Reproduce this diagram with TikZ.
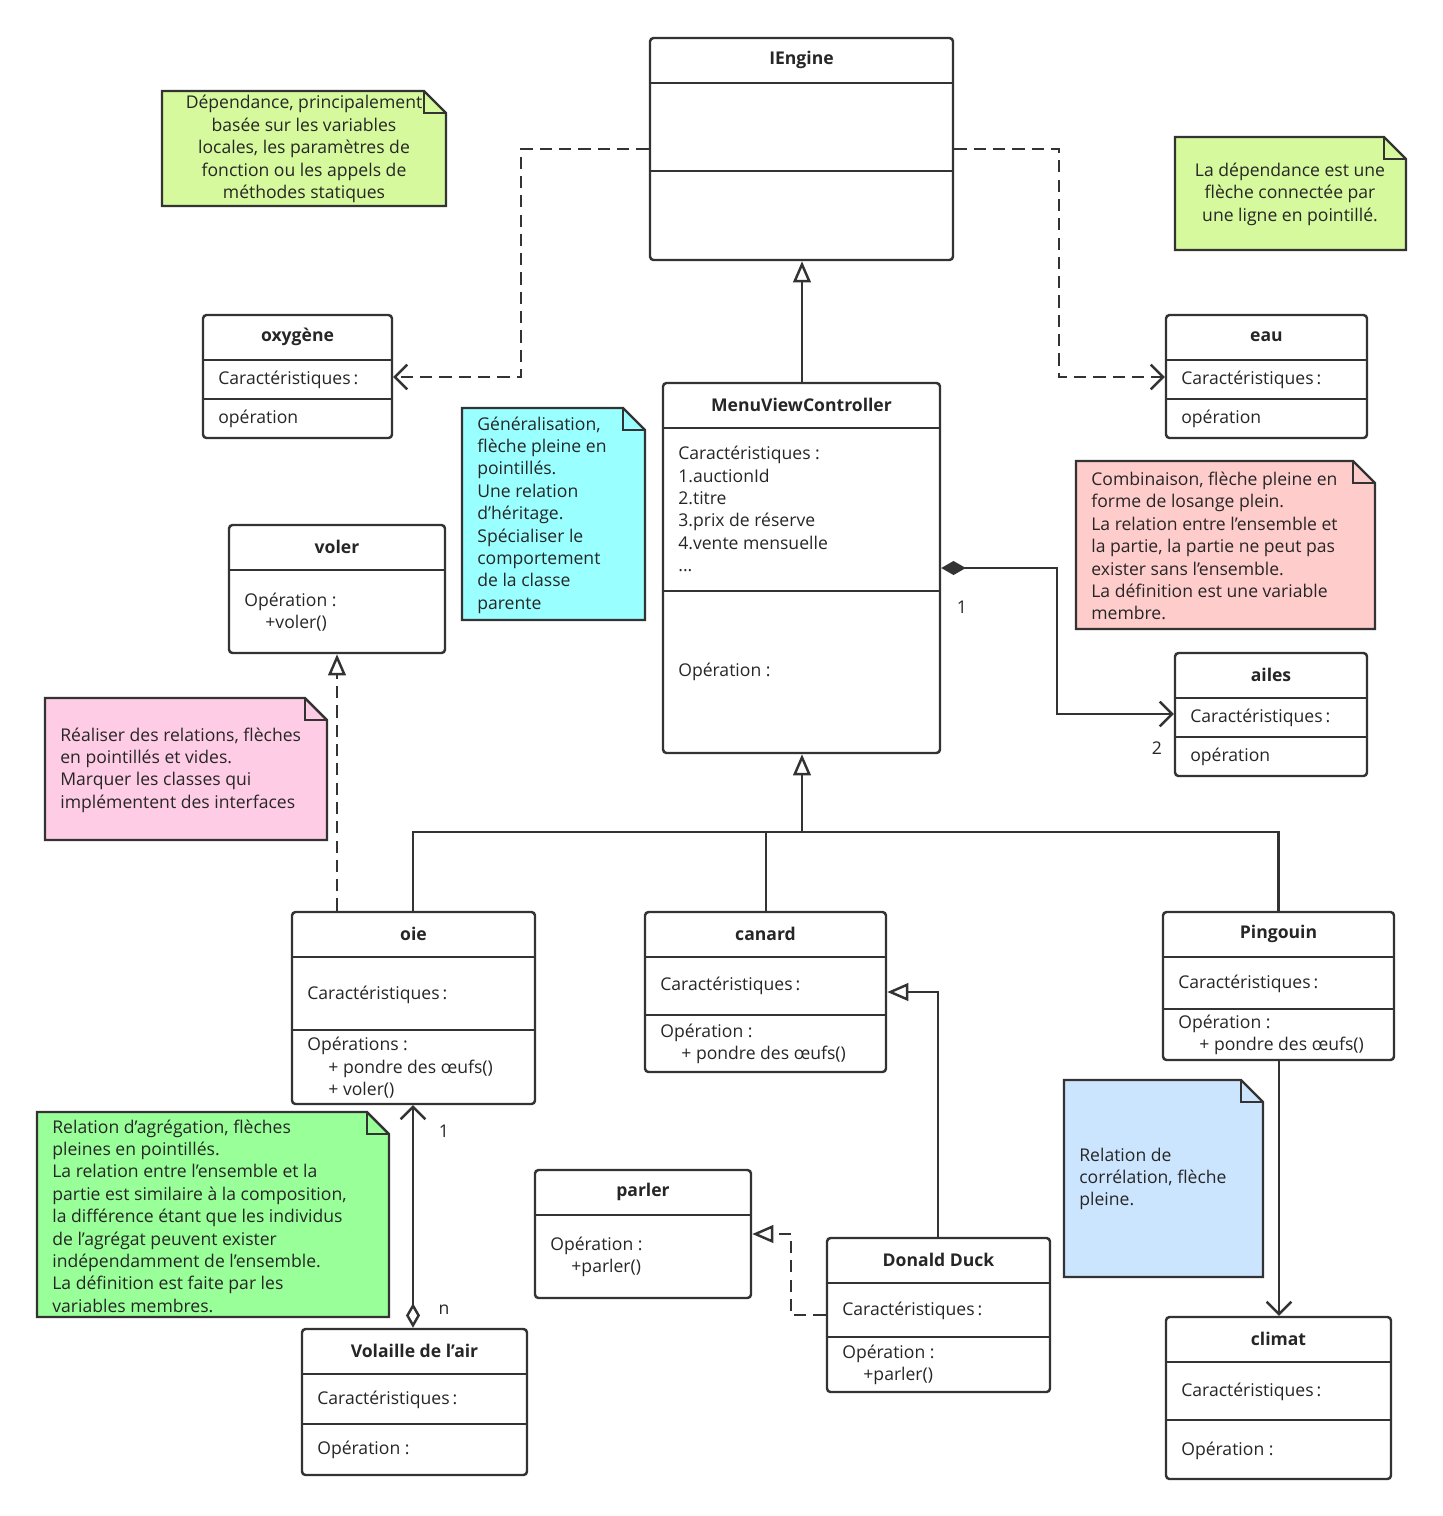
\documentclass[tikz,border=0pt]{standalone}
\usepackage{fontspec}
\setmainfont{Open Sans}
\usepackage{tikz}
\usetikzlibrary{positioning,arrows.meta,fit,calc}

\definecolor{ln}{HTML}{333333}
\definecolor{lime}{HTML}{D5F99C}
\definecolor{aqua}{HTML}{99FFFF}
\definecolor{rose}{HTML}{FFCCCC}
\definecolor{pinkn}{HTML}{FFCCE6}
\definecolor{mint}{HTML}{99FF99}
\definecolor{sky}{HTML}{CCE5FF}

\tikzset{
  cls/.style={draw=ln, line width=1.4pt, rounded corners=2pt, inner sep=0pt, fill=white},
  sep/.style={draw=ln, line width=1.4pt},
  ttl/.style={font=\bfseries, inner sep=0pt},
  txt/.style={anchor=west, inner sep=0pt, align=left},
  link/.style={draw=ln, line width=1.4pt},
  dep/.style={link, dashed, dash pattern=on 7pt off 4pt},
  gen/.style={-{Triangle[open,fill=white,length=12pt,width=10pt]}},
  barb/.style={-{Straight Barb[length=7pt,width=14pt]}},
}

% class box: name, x1, y1, x2, y2, title
\newcommand\classbox[6]{%
  \node[cls, fit={(#2,#3) (#4,#5)}] (#1) {};
  \node[ttl] (#1-t) at ($(#1.north)+(0,23)$) {#6};}
% separator of a class box at height y
\newcommand\classsep[2]{%
  \draw[sep] (#1.west |- 0,#2) -- (#1.east |- 0,#2);}
% note: name, x1, y1, x2, y2, colour
\newcommand\notebox[6]{%
  \draw[link, fill=#6] (#2,#3) -- ($(#4,#3)+(-22,0)$) -- ($(#4,#3)+(0,22)$) -- (#4,#5) -- (#2,#5) -- cycle;
  \draw[link] ($(#4,#3)+(-22,0)$) -- ($(#4,#3)+(-22,22)$) -- ($(#4,#3)+(0,22)$);
  \coordinate (#1) at ($(#2,#3)!0.5!(#4,#5)$);}

\begin{document}
\begin{tikzpicture}[x=0.02cm, y=-0.02cm, font=\fontsize{10}{12.75}\selectfont, text=black!85]
\useasboundingbox[fill=white] (0,0) rectangle (1443,1516);

% notes
\notebox{n1}{162}{91}{446}{206}{lime}
\node[align=center, inner sep=0pt] (n1-t) at (304,149) {Dépendance, principalement\\basée sur les variables\\locales, les paramètres de\\fonction ou les appels de\\méthodes statiques};
\notebox{n2}{1175}{137}{1406}{250}{lime}
\node[align=center, inner sep=0pt] (n2-t) at (1290,194) {La dépendance est une\\flèche connectée par\\une ligne en pointillé.};
\notebox{n3}{462}{408}{645}{620}{aqua}
\node[txt] (n3-t) at (477,515) {Généralisation,\\flèche pleine en\\pointillés.\\Une relation\\d'héritage.\\Spécialiser le\\comportement\\de la classe\\parente};
\notebox{n4}{1076}{461}{1375}{629}{rose}
\node[txt] (n4-t) at (1091,546) {Combinaison, flèche pleine en\\forme de losange plein.\\La relation entre l'ensemble et\\la partie, la partie ne peut pas\\exister sans l'ensemble.\\La définition est une variable\\membre.};
\notebox{n5}{45}{698}{327}{840}{pinkn}
\node[txt] (n5-t) at (60,770) {Réaliser des relations, flèches\\en pointillés et vides.\\Marquer les classes qui\\implémentent des interfaces};
\notebox{n6}{37}{1112}{389}{1317}{mint}
\node[txt] (n6-t) at (52,1216) {Relation d'agrégation, flèches\\pleines en pointillés.\\La relation entre l'ensemble et la\\partie est similaire à la composition,\\la différence étant que les individus\\de l'agrégat peuvent exister\\indépendamment de l'ensemble.\\La définition est faite par les\\variables membres.};
\notebox{n7}{1064}{1080}{1263}{1277}{sky}
\node[txt] (n7-t) at (1079,1179) {Relation de\\corrélation, flèche\\pleine.};

% classes
\classbox{engine}{650}{38}{953}{260}{IEngine}
\classsep{engine}{83} \classsep{engine}{171}

\classbox{oxy}{203}{315}{392}{438}{oxygène}
\classsep{oxy}{360} \classsep{oxy}{399}
\node[txt] (oxy-a) at (218,380) {Caractéristiques\,:};
\node[txt] (oxy-o) at (218,419) {opération};

\classbox{eau}{1166}{315}{1367}{438}{eau}
\classsep{eau}{360} \classsep{eau}{399}
\node[txt] (eau-a) at (1181,380) {Caractéristiques\,:};
\node[txt] (eau-o) at (1181,419) {opération};

\classbox{mvc}{663}{383}{940}{753}{MenuViewController}
\classsep{mvc}{428} \classsep{mvc}{591}
\node[txt] (mvc-a) at (678,509) {Caractéristiques :\\1.auctionId\\2.titre\\3.prix de réserve\\4.vente mensuelle\\...};
\node[txt] (mvc-o) at (678,672) {Opération :};

\classbox{voler}{229}{525}{445}{653}{voler}
\classsep{voler}{570}
\node[txt] (voler-o) at (244,612) {Opération :\\\hspace*{1.2em}+voler()};

\classbox{ailes}{1175}{653}{1367}{776}{ailes}
\classsep{ailes}{698} \classsep{ailes}{737}
\node[txt] (ailes-a) at (1190,718) {Caractéristiques\,:};
\node[txt] (ailes-o) at (1190,757) {opération};

\classbox{oie}{292}{912}{535}{1104}{oie}
\classsep{oie}{957} \classsep{oie}{1030}
\node[txt] (oie-a) at (307,995) {Caractéristiques\,:};
\node[txt] (oie-o) at (307,1068) {Opérations :\\\hspace*{1.2em}+ pondre des œufs()\\\hspace*{1.2em}+ voler()};

\classbox{canard}{645}{912}{886}{1072}{canard}
\classsep{canard}{957} \classsep{canard}{1015}
\node[txt] (canard-a) at (660,986) {Caractéristiques\,:};
\node[txt] (canard-o) at (660,1044) {Opération :\\\hspace*{1.2em}+ pondre des œufs()};

\classbox{ping}{1163}{912}{1394}{1060}{Pingouin}
\classsep{ping}{957} \classsep{ping}{1009}
\node[txt] (ping-a) at (1178,984) {Caractéristiques\,:};
\node[txt] (ping-o) at (1178,1035) {Opération :\\\hspace*{1.2em}+ pondre des œufs()};

\classbox{parler}{535}{1170}{751}{1298}{parler}
\classsep{parler}{1215}
\node[txt] (parler-o) at (550,1257) {Opération :\\\hspace*{1.2em}+parler()};

\classbox{donald}{827}{1238}{1050}{1392}{Donald Duck}
\classsep{donald}{1283} \classsep{donald}{1337}
\node[txt] (donald-a) at (842,1311) {Caractéristiques\,:};
\node[txt] (donald-o) at (842,1365) {Opération :\\\hspace*{1.2em}+parler()};

\classbox{volaille}{302}{1329}{527}{1475}{Volaille de l'air}
\classsep{volaille}{1374} \classsep{volaille}{1424}
\node[txt] (volaille-a) at (317,1400) {Caractéristiques\,:};
\node[txt] (volaille-o) at (317,1450) {Opération :};

\classbox{climat}{1166}{1317}{1391}{1479}{climat}
\classsep{climat}{1362} \classsep{climat}{1420}
\node[txt] (climat-a) at (1181,1392) {Caractéristiques\,:};
\node[txt] (climat-o) at (1181,1451) {Opération :};

% dependencies
\draw[dep, barb] (engine.west |- 0,149) -| (521,377) -- (oxy.east |- 0,377);
\draw[dep, barb] (engine.east |- 0,149) -| (1059,377) -- (eau.west |- 0,377);
% generalisation
\draw[link, gen] (mvc.north -| 802,0) -- (engine.south -| 802,0);
\coordinate (tree) at (802,832);
\draw[link] (oie.north -| 413,0) |- (ping.north |- tree) -- (ping.north);
\draw[link] (canard.north -| 766,0) -- (766,832);
\draw[link, gen] (tree) -- (mvc.south -| tree);
\draw[link, gen] (donald.north -| 938,0) |- (canard.east |- 0,992);
% realisation
\draw[dep, gen] (oie.north -| 337,0) -- (voler.south -| 337,0);
\draw[dep, gen] (donald.west |- 0,1315) -| (791,1234) -- (parler.east |- 0,1234);
% composition
\draw[link, {Diamond[length=14pt,width=8pt]}-{Straight Barb[length=7pt,width=14pt]}]
  (mvc.east |- 0,568) -| (1057,714) -- (ailes.west |- 0,714);
\node (c1) at (962,607) {1};
\node (c2) at (1157,748) {2};
% aggregation
\draw[link, {Diamond[open,fill=white,length=14pt,width=8pt]}-{Straight Barb[length=7pt,width=14pt]}]
  (volaille.north -| 413,0) -- (oie.south -| 413,0);
\node (a1) at (444,1131) {1};
\node (an) at (444,1310) {n};
% association
\draw[link, barb] (ping.south -| 1279,0) -- (climat.north -| 1279,0);
\end{tikzpicture}
\end{document}
